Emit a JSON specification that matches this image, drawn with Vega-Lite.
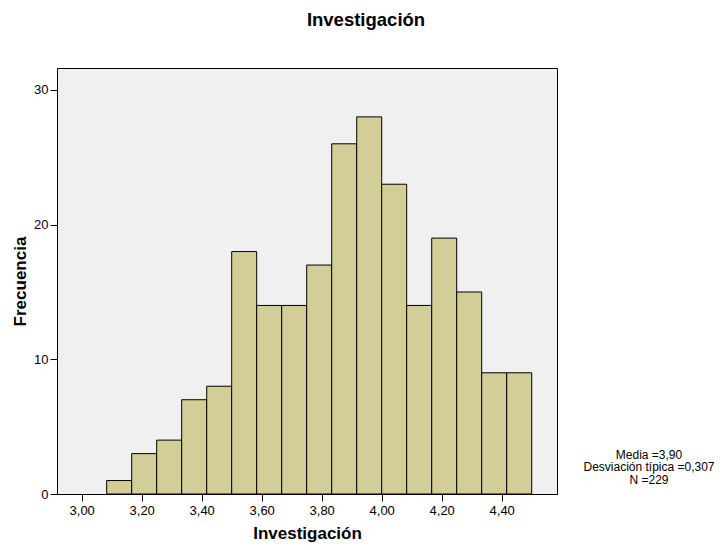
{
  "$schema": "https://vega.github.io/schema/vega-lite/v6.json",
  "width": 500,
  "height": 426,
  "autosize": "none",
  "padding": {"left": 57, "top": 68, "right": 167, "bottom": 56},
  "background": "white",
  "config": {
    "font": "Liberation Sans",
    "view": {"fill": "#F0F0F0", "stroke": "black", "strokeWidth": 1},
    "axis": {"domainColor": "black", "tickColor": "black", "labelColor": "black", "titleColor": "black", "grid": false, "tickSize": 7, "labelFontSize": 13, "titleFontSize": 17, "titleFontWeight": "bold", "labelFont": "Liberation Sans", "titleFont": "Liberation Sans"}
  },
  "title": {"text": "Investigación", "fontSize": 18.5, "fontWeight": "bold", "font": "Liberation Sans", "color": "black", "anchor": "middle", "dx": 59, "baseline": "alphabetic", "offset": 24},
  "layer": [
    {
      "data": {"values": [
        {"start": 3.0833, "end": 3.1667, "count": 1},
        {"start": 3.1667, "end": 3.25, "count": 3},
        {"start": 3.25, "end": 3.3333, "count": 4},
        {"start": 3.3333, "end": 3.4167, "count": 7},
        {"start": 3.4167, "end": 3.5, "count": 8},
        {"start": 3.5, "end": 3.5833, "count": 18},
        {"start": 3.5833, "end": 3.6667, "count": 14},
        {"start": 3.6667, "end": 3.75, "count": 14},
        {"start": 3.75, "end": 3.8333, "count": 17},
        {"start": 3.8333, "end": 3.9167, "count": 26},
        {"start": 3.9167, "end": 4.0, "count": 28},
        {"start": 4.0, "end": 4.0833, "count": 23},
        {"start": 4.0833, "end": 4.1667, "count": 14},
        {"start": 4.1667, "end": 4.25, "count": 19},
        {"start": 4.25, "end": 4.3333, "count": 15},
        {"start": 4.3333, "end": 4.4167, "count": 9},
        {"start": 4.4167, "end": 4.5, "count": 9}
      ]},
      "mark": {"type": "rect", "fill": "#D3CE97", "stroke": "black", "strokeWidth": 1},
      "encoding": {
        "x": {"field": "start", "type": "quantitative", "scale": {"domain": [2.9177, 4.5843], "nice": false, "zero": false},
          "axis": {"title": "Investigación", "values": [3.0, 3.2, 3.4, 3.6, 3.8, 4.0, 4.2, 4.4], "labelExpr": "replace(format(datum.value, '.2f'), '.', ',')", "labelPadding": 3, "titlePadding": 8}},
        "x2": {"field": "end"},
        "y": {"field": "count", "type": "quantitative", "scale": {"domain": [0, 31.63], "nice": false},
          "axis": {"title": "Frecuencia", "values": [0, 10, 20, 30], "labelPadding": 2, "titlePadding": 4}}
      }
    },
    {
      "data": {"values": [{"label": "Media =3,90\nDesviación típica =0,307\nN =229"}]},
      "mark": {"type": "text", "fontSize": 12, "lineBreak": "\n", "lineHeight": 12.5, "align": "center", "baseline": "middle", "color": "black", "font": "Liberation Sans"},
      "encoding": {
        "x": {"datum": 4.891, "type": "quantitative"},
        "y": {"datum": 2.9, "type": "quantitative"},
        "text": {"field": "label"}
      }
    }
  ]
}
